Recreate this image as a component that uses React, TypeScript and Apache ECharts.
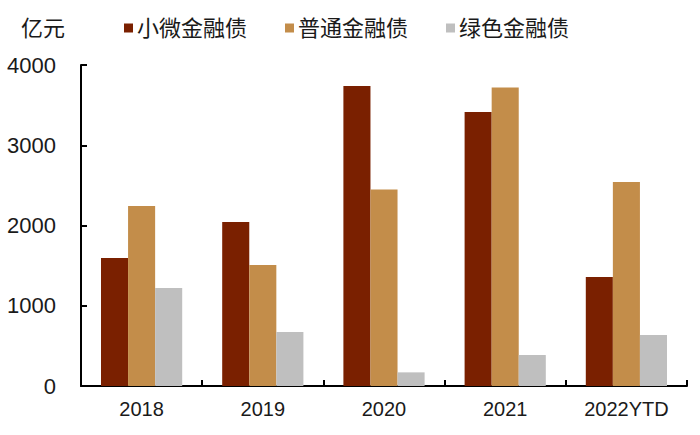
import React, { useEffect, useRef } from "react";
import * as echarts from "echarts";

const categories = ["2018", "2019", "2020", "2021", "2022YTD"];
const seriesNames = ["小微金融债", "普通金融债", "绿色金融债"];
const smallMicro = [1595, 2044, 3738, 3414, 1358];
const general = [2243, 1508, 2450, 3720, 2542];
const green = [1221, 673, 170, 386, 636];
const colors = ["#7A2000", "#C38D4A", "#BFBFBF"];
const yTicks = [0, 1000, 2000, 3000, 4000];
const unit = "亿元";

const FONT = "'Liberation Sans', 'Noto Sans CJK SC', sans-serif";

export default function App() {
  const ref = useRef<HTMLDivElement>(null);
  useEffect(() => {
    if (!ref.current) return;
    const chart = echarts.init(ref.current, undefined, { renderer: "svg" });
    const data = [smallMicro, general, green];
    chart.setOption({
      animation: false,
      backgroundColor: "#ffffff",
      title: {
        text: unit,
        left: 21,
        top: 17,
        padding: 0,
        textStyle: { fontFamily: FONT, fontSize: 22, fontWeight: "normal", color: "#1a1a1a" },
      },
      legend: {
        left: 124,
        top: 17,
        padding: 0,
        icon: "rect",
        itemWidth: 9,
        itemHeight: 9,
        itemGap: 38,
        data: seriesNames,
        textStyle: { fontFamily: FONT, fontSize: 22, color: "#1a1a1a", padding: [0, 0, 0, -1] },
      },
      grid: { left: 81, right: 13, top: 65, bottom: 49, containLabel: false },
      xAxis: {
        type: "category",
        data: categories,
        axisLine: { lineStyle: { color: "#000", width: 2 } },
        axisTick: { show: true, inside: true, length: 6, lineStyle: { color: "#000", width: 2 } },
        axisLabel: { fontFamily: FONT, fontSize: 20, color: "#1a1a1a", margin: 13 },
      },
      yAxis: {
        type: "value",
        min: yTicks[0],
        max: yTicks[yTicks.length - 1],
        interval: 1000,
        splitLine: { show: false },
        axisLine: { show: true, lineStyle: { color: "#000", width: 2 } },
        axisTick: { show: true, inside: true, length: 6, lineStyle: { color: "#000", width: 2 } },
        axisLabel: {
          fontFamily: FONT,
          fontSize: 22,
          color: "#1a1a1a",
          margin: 25,
          formatter: (v: number) => String(v),
        },
      },
      series: seriesNames.map((name, i) => ({
        name,
        type: "bar",
        data: data[i],
        barGap: "0%",
        barCategoryGap: "33%",
        itemStyle: { color: colors[i] },
      })),
    });
    return () => chart.dispose();
  }, []);
  return (
    <div
      ref={ref}
      style={{ position: "fixed", left: 0, top: 0, width: 700, height: 435 }}
    />
  );
}
